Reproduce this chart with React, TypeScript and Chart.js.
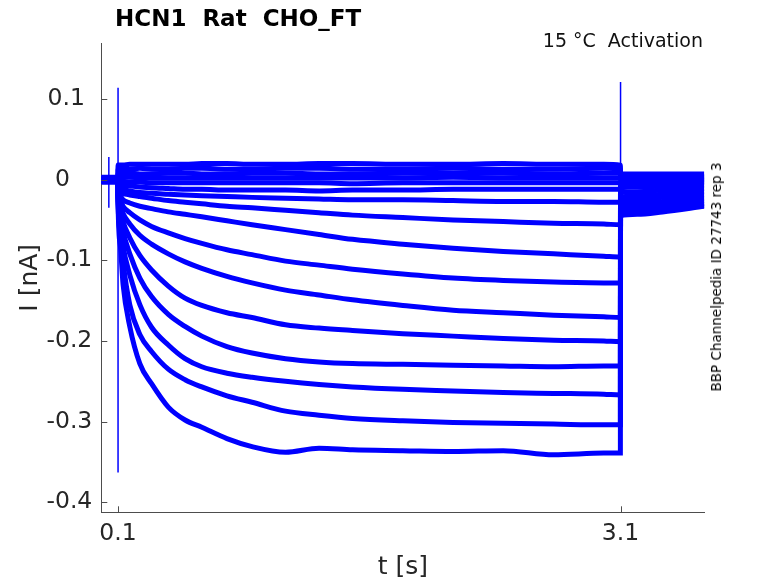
import React, { useEffect, useRef } from "react";
import { Chart, registerables } from "chart.js";

Chart.register(...registerables);

// sample times (s) for the holding, test-step and tail parts of each sweep
const holdTimes = [0, 0.099];
const stepTimes = [0.1, 0.115, 0.13, 0.17, 0.23, 0.3, 0.4, 0.5, 0.6, 0.75, 0.9, 1.1, 1.3, 1.5, 1.8, 2.1, 2.4, 2.7, 3.0, 3.099];
const tailTimes = [3.1, 3.2, 3.35, 3.6];

// current (nA), one entry per sweep, most depolarised sweep first
const holdCurrents = [0.003, 0.002, 0.002, 0.001, 0.001, 0.0, 0.0, 0.0, -0.001, -0.001, -0.001, -0.002, -0.002, -0.002, -0.003, -0.003];

const stepCurrents = [
    [0.018, 0.018, 0.018, 0.019, 0.019, 0.019, 0.019, 0.019, 0.02, 0.02, 0.019, 0.019, 0.02, 0.02, 0.019, 0.019, 0.02, 0.019, 0.019, 0.018],
    [0.013, 0.013, 0.013, 0.013, 0.014, 0.013, 0.013, 0.014, 0.014, 0.013, 0.013, 0.014, 0.014, 0.013, 0.013, 0.014, 0.013, 0.013, 0.014, 0.013],
    [0.008, 0.008, 0.008, 0.008, 0.007, 0.007, 0.008, 0.008, 0.007, 0.007, 0.008, 0.008, 0.007, 0.007, 0.008, 0.008, 0.008, 0.007, 0.008, 0.008],
    [0.004, 0.003, 0.003, 0.003, 0.002, 0.002, 0.002, 0.002, 0.002, 0.002, 0.002, 0.002, 0.002, 0.002, 0.002, 0.003, 0.002, 0.002, 0.002, 0.002],
    [-0.001, -0.002, -0.002, -0.003, -0.003, -0.004, -0.004, -0.004, -0.004, -0.004, -0.004, -0.004, -0.004, -0.005, -0.004, -0.004, -0.004, -0.004, -0.004, -0.004],
    [-0.004, -0.006, -0.007, -0.008, -0.009, -0.01, -0.011, -0.012, -0.012, -0.013, -0.013, -0.013, -0.014, -0.013, -0.013, -0.012, -0.012, -0.012, -0.012, -0.012],
    [-0.008, -0.01, -0.012, -0.014, -0.016, -0.017, -0.018, -0.019, -0.02, -0.021, -0.022, -0.023, -0.024, -0.025, -0.025, -0.026, -0.027, -0.027, -0.028, -0.028],
    [-0.012, -0.015, -0.017, -0.019, -0.021, -0.023, -0.026, -0.028, -0.03, -0.033, -0.035, -0.038, -0.041, -0.044, -0.047, -0.05, -0.052, -0.054, -0.055, -0.056],
    [-0.016, -0.021, -0.025, -0.029, -0.033, -0.036, -0.04, -0.043, -0.046, -0.051, -0.056, -0.062, -0.068, -0.074, -0.08, -0.085, -0.089, -0.092, -0.095, -0.096],
    [-0.018, -0.026, -0.033, -0.041, -0.05, -0.058, -0.066, -0.073, -0.079, -0.087, -0.093, -0.101, -0.106, -0.111, -0.117, -0.122, -0.125, -0.127, -0.128, -0.128],
    [-0.02, -0.032, -0.042, -0.055, -0.069, -0.08, -0.092, -0.102, -0.11, -0.12, -0.128, -0.137, -0.143, -0.149, -0.156, -0.162, -0.165, -0.168, -0.17, -0.171],
    [-0.022, -0.038, -0.052, -0.072, -0.094, -0.112, -0.132, -0.147, -0.156, -0.165, -0.171, -0.18, -0.184, -0.187, -0.191, -0.194, -0.197, -0.199, -0.2, -0.201],
    [-0.024, -0.045, -0.064, -0.092, -0.122, -0.145, -0.167, -0.182, -0.194, -0.207, -0.215, -0.222, -0.226, -0.228, -0.229, -0.23, -0.231, -0.232, -0.231, -0.231],
    [-0.026, -0.055, -0.082, -0.118, -0.155, -0.183, -0.205, -0.222, -0.232, -0.24, -0.245, -0.25, -0.254, -0.257, -0.26, -0.262, -0.264, -0.265, -0.266, -0.267],
    [-0.028, -0.068, -0.102, -0.155, -0.192, -0.213, -0.235, -0.248, -0.257, -0.268, -0.276, -0.287, -0.292, -0.296, -0.299, -0.301, -0.302, -0.303, -0.304, -0.304],
    [-0.03, -0.085, -0.13, -0.182, -0.228, -0.253, -0.282, -0.298, -0.307, -0.321, -0.331, -0.338, -0.333, -0.335, -0.336, -0.337, -0.336, -0.341, -0.339, -0.339],
];

const tailCurrents = [
    [0.007, 0.007, 0.007, 0.007],
    [0.004, 0.004, 0.004, 0.004],
    [0.002, 0.002, 0.002, 0.002],
    [0.0, 0.0, 0.0, 0.0],
    [-0.002, -0.002, -0.002, -0.002],
    [-0.005, -0.004, -0.004, -0.004],
    [-0.01, -0.009, -0.008, -0.007],
    [-0.016, -0.015, -0.013, -0.011],
    [-0.022, -0.02, -0.018, -0.015],
    [-0.027, -0.025, -0.022, -0.019],
    [-0.032, -0.03, -0.027, -0.023],
    [-0.036, -0.034, -0.031, -0.026],
    [-0.039, -0.037, -0.034, -0.029],
    [-0.041, -0.039, -0.036, -0.03],
    [-0.043, -0.041, -0.038, -0.032],
    [-0.045, -0.043, -0.04, -0.033],
];

// capacitive transients at the voltage steps
const artifactTimes = [0.045, 0.1, 3.1];
const artifactHigh = [0.028, 0.114, 0.121];
const artifactLow = [-0.035, -0.363, -0.04];

const xTickValues = [0.1, 3.1];
const yTickValues = [-0.4, -0.3, -0.2, -0.1, 0, 0.1];

const traceColor = "#0000ff";
const axisColor = "#4d4d4d";
const textColor = "#262626";
const fontFamily = "'DejaVu Sans', sans-serif";

// y labels sit the way MATLAB placed them: negatives flush, others padded
const yTickLabel = (v: number) => {
    if (v === 0) return "0   ";
    if (v > 0) return String(v) + " ";
    return String(v);
};

// MATLAB style ticks pointing into the plot
const inwardTicks = {
    id: "inwardTicks",
    afterDraw(chart: any) {
        const { ctx, chartArea, scales } = chart;
        ctx.save();
        ctx.strokeStyle = axisColor;
        ctx.lineWidth = 1;
        ctx.beginPath();
        xTickValues.forEach((v) => {
            const px = Math.round(scales.x.getPixelForValue(v)) + 0.5;
            ctx.moveTo(px, chartArea.bottom);
            ctx.lineTo(px, chartArea.bottom - 6);
        });
        yTickValues.forEach((v) => {
            const py = Math.round(scales.y.getPixelForValue(v)) + 0.5;
            ctx.moveTo(chartArea.left, py);
            ctx.lineTo(chartArea.left + 6, py);
        });
        ctx.stroke();
        ctx.restore();
    },
};

const App: React.FC = () => {
    const chartRef = useRef<HTMLCanvasElement | null>(null);
    const chartInstance = useRef<Chart | null>(null);

    useEffect(() => {
        if (chartInstance.current) {
            chartInstance.current.destroy();
        }
        if (!chartRef.current) return;
        const ctx = chartRef.current.getContext("2d");
        if (!ctx) return;

        const sweeps = stepCurrents.map((step, i) => ({
            data: [
                ...holdTimes.map((t) => ({ x: t, y: holdCurrents[i] })),
                ...stepTimes.map((t, j) => ({ x: t, y: step[j] })),
                ...tailTimes.map((t, j) => ({ x: t, y: tailCurrents[i][j] })),
            ],
            borderColor: traceColor,
            borderWidth: 5,
            pointRadius: 0,
            cubicInterpolationMode: "monotone" as const,
        }));

        const artifacts = {
            data: artifactTimes.flatMap((t, i) => [
                { x: t, y: artifactHigh[i] },
                { x: t, y: artifactLow[i] },
                { x: t, y: null },
            ]),
            borderColor: traceColor,
            borderWidth: 1.5,
            pointRadius: 0,
            spanGaps: false,
        };

        chartInstance.current = new Chart(ctx, {
            type: "line",
            data: { datasets: [...sweeps, artifacts] as any },
            options: {
                animation: false,
                responsive: false,
                events: [],
                layout: { padding: { top: 43.3, right: 73.7, left: 0, bottom: 0 } },
                plugins: {
                    legend: { display: false },
                    tooltip: { enabled: false },
                },
                scales: {
                    x: {
                        type: "linear",
                        min: 0,
                        max: 3.6,
                        afterBuildTicks: (scale: any) => {
                            scale.ticks = xTickValues.map((v) => ({ value: v }));
                        },
                        afterFit: (scale: any) => {
                            scale.height = 70.7;
                        },
                        ticks: {
                            padding: 7.3,
                            maxRotation: 0,
                            color: textColor,
                            font: { family: fontFamily, size: 23.5 },
                            callback: (v: any) => String(v),
                        },
                        grid: { drawOnChartArea: false, drawTicks: false },
                        border: { color: axisColor, width: 1 },
                        title: {
                            display: true,
                            text: "t [s]",
                            color: textColor,
                            padding: { top: 0, bottom: 3.5 },
                            font: { family: fontFamily, size: 25, lineHeight: 1 },
                        },
                    },
                    y: {
                        type: "linear",
                        min: -0.4124,
                        max: 0.169,
                        afterBuildTicks: (scale: any) => {
                            scale.ticks = yTickValues.map((v) => ({ value: v }));
                        },
                        afterFit: (scale: any) => {
                            scale.width = 101.3;
                        },
                        ticks: {
                            padding: 9,
                            color: textColor,
                            font: { family: fontFamily, size: 23.5 },
                            callback: (v: any) => yTickLabel(Number(v)),
                        },
                        grid: { drawOnChartArea: false, drawTicks: false },
                        border: { color: axisColor, width: 1 },
                        title: {
                            display: true,
                            text: "I [nA]",
                            color: textColor,
                            padding: { top: 17.5, bottom: 0 },
                            font: { family: fontFamily, size: 25, lineHeight: 1 },
                        },
                    },
                },
            },
            plugins: [inwardTicks],
        });

        return () => {
            if (chartInstance.current) {
                chartInstance.current.destroy();
                chartInstance.current = null;
            }
        };
    }, []);

    return (
        <div
            style={{
                position: "fixed",
                left: 0,
                top: 0,
                width: 778,
                height: 583,
                background: "#ffffff",
                fontFamily: fontFamily,
            }}
        >
            <canvas ref={chartRef} width={778} height={583} style={{ width: 778, height: 583 }}></canvas>
            <div
                style={{
                    position: "absolute",
                    left: 115,
                    top: 7,
                    fontSize: 23,
                    lineHeight: "23px",
                    fontWeight: "bold",
                    color: "#000000",
                    whiteSpace: "pre",
                }}
            >
                HCN1  Rat  CHO_FT
            </div>
            <div
                style={{
                    position: "absolute",
                    right: 75,
                    top: 31,
                    fontSize: 19,
                    lineHeight: "19px",
                    color: "#111111",
                    whiteSpace: "pre",
                }}
            >
                15 °C  Activation
            </div>
            <div
                style={{
                    position: "absolute",
                    left: 716,
                    top: 277,
                    fontSize: 13.5,
                    lineHeight: "14px",
                    color: "#000000",
                    whiteSpace: "nowrap",
                    transform: "translate(-50%, -50%) rotate(-90deg)",
                }}
            >
                BBP Channelpedia ID 27743 rep 3
            </div>
        </div>
    );
};

export default App;
